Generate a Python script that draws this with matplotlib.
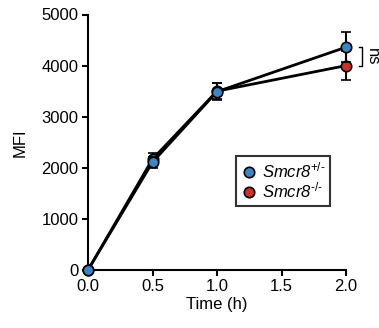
import matplotlib
matplotlib.use("Agg")
import matplotlib.pyplot as plt
from matplotlib.lines import Line2D

plt.rcParams['font.family'] = ['Liberation Sans', 'DejaVu Sans']
plt.rcParams['mathtext.fontset'] = 'custom'
plt.rcParams['mathtext.rm'] = 'Liberation Sans'
plt.rcParams['mathtext.it'] = 'Liberation Sans:italic'

time_h = [0.0, 0.5, 1.0, 2.0]
het_mean = [0, 2110, 3490, 4360]
het_err = [0, 110, 160, 290]
ko_mean = [0, 2170, 3500, 4000]
ko_err = [0, 110, 150, 280]
labels = [r'Smcr8$^{\text{+/-}}$', r'Smcr8$^{\text{-/-}}$']
colors = ['#3a86c4', '#d0302b']

fig = plt.figure(figsize=(3.79, 3.28), dpi=100)
ax = fig.add_axes([88/379, 1-270/328, (346-88)/379, (270-14.5)/328])

for m, e, c, z in [(ko_mean, ko_err, colors[1], 3), (het_mean, het_err, colors[0], 4)]:
    ax.errorbar(time_h, m, yerr=e, color='black', lw=2, capsize=3.6, capthick=1.5, elinewidth=1.5,
                marker='o', ms=7.5, mfc=c, mec='black', mew=1.2, zorder=z, clip_on=False)

ax.set_xlim(0, 2.0)
ax.set_ylim(0, 5000)
ax.set_xticks([0.0, 0.5, 1.0, 1.5, 2.0])
ax.set_xticklabels(['0.0', '0.5', '1.0', '1.5', '2.0'])
ax.set_yticks([0, 1000, 2000, 3000, 4000, 5000])
for s in ['top', 'right']:
    ax.spines[s].set_visible(False)
for s in ['left', 'bottom']:
    ax.spines[s].set_linewidth(1.5)
ax.tick_params(direction='out', length=4.5, width=1.5, labelsize=12)
ax.tick_params(axis='x', pad=2)
ax.tick_params(axis='y', pad=2.5)
ax.set_xlabel('Time (h)', fontsize=12)
ax.set_ylabel('MFI', fontsize=12)
ax.xaxis.set_label_coords(0.5, -(297-270)/255.5)
ax.yaxis.set_label_coords((28-88)/258, 0.5)

handles = [Line2D([], [], ls='none', marker='o', ms=7.5, mfc=c, mec='black', mew=1.2) for c in colors]
leg = ax.legend(handles, labels, loc='upper left', bbox_to_anchor=((236-88)/258, 1-(156-14.5)/255.5),
                frameon=True, fancybox=False, edgecolor='black', prop={'size': 12, 'style': 'italic'},
                handletextpad=0.25, handlelength=1.0, borderpad=0.3, labelspacing=0.0, borderaxespad=0)
leg.get_frame().set_linewidth(1.5)

# ns bracket
bx0 = 2.0 + (359-346)/129
bx1 = 2.0 + (362-346)/129
ax.plot([bx0, bx1, bx1, bx0], [het_mean[3], het_mean[3], ko_mean[3], ko_mean[3]],
        color='black', lw=1, clip_on=False)
ax.text(2.0 + (365-346)/129, (het_mean[3]+ko_mean[3])/2, 'ns', rotation=-90, ha='left', va='center',
        fontsize=12, clip_on=False)

fig.savefig('out.png', dpi=100)
